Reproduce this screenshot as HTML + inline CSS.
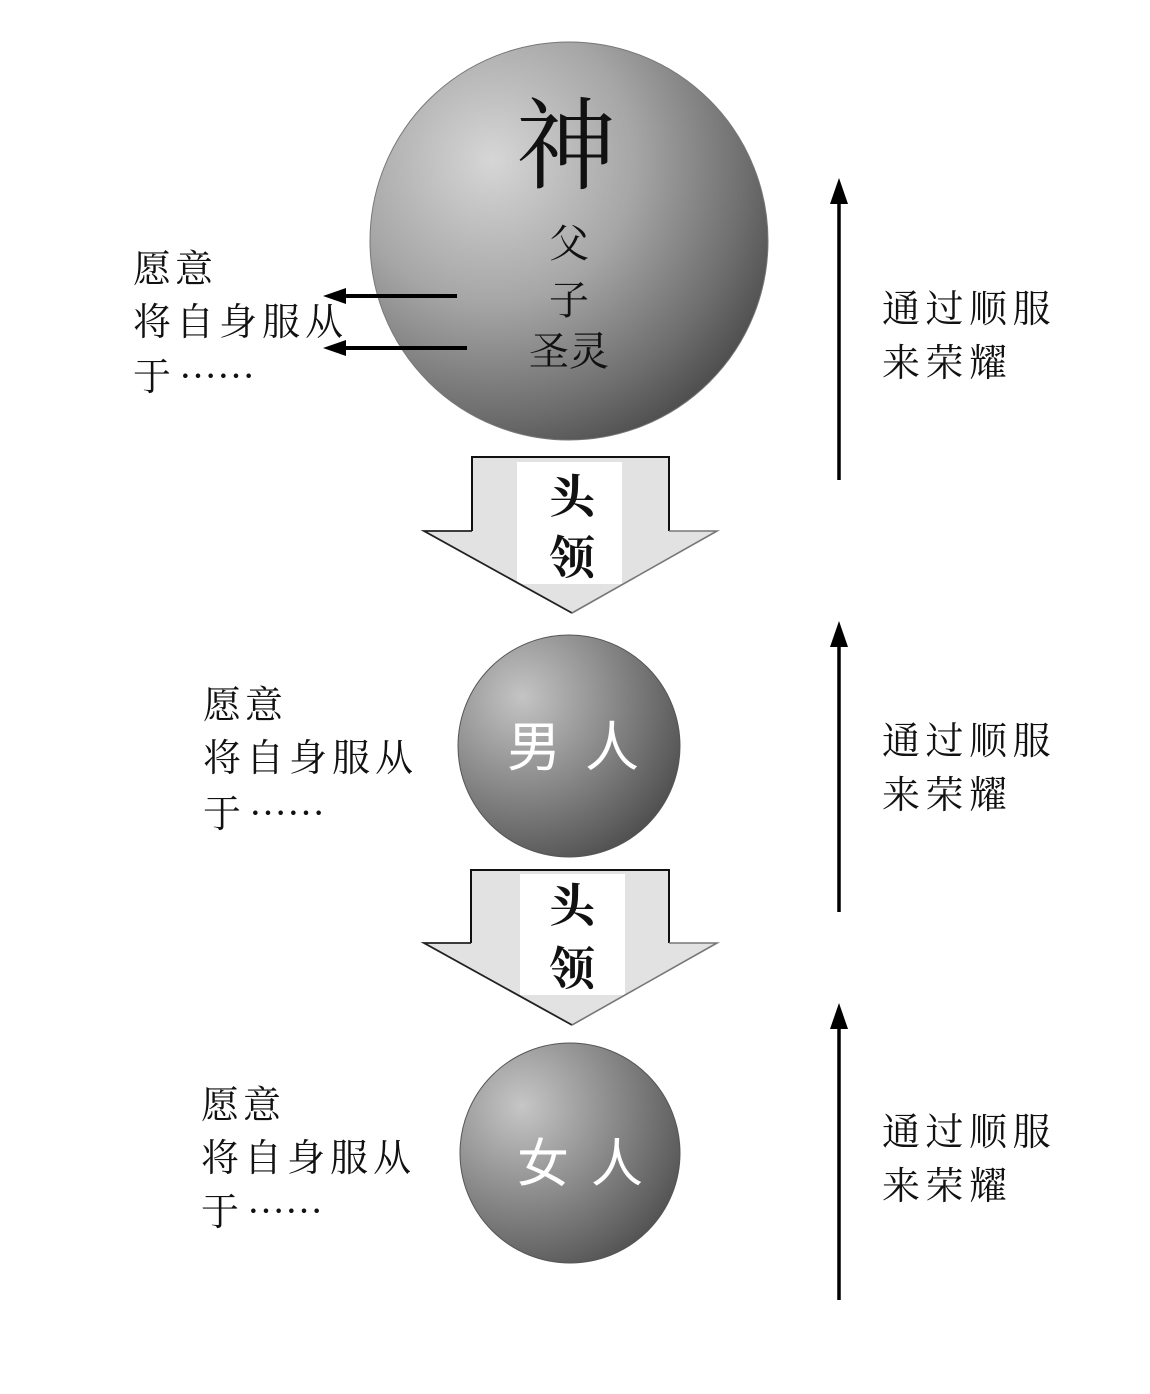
<!DOCTYPE html>
<html>
<head>
<meta charset="utf-8">
<style>
  html, body { margin:0; padding:0; background:#ffffff; }
  body { width:1150px; height:1394px; overflow:hidden; }
  svg { display:block; }
  .t { font-family: "Liberation Serif", "Noto Serif CJK SC", serif; fill:#111; }
  .e { font-family: "Noto Serif CJK SC", serif; fill:#111; font-weight:900; }
  .s { font-family: "Liberation Sans", "Noto Sans CJK SC", sans-serif; fill:#ffffff; }
</style>
</head>
<body>
<svg width="1150" height="1394" viewBox="0 0 1150 1394" xmlns="http://www.w3.org/2000/svg">
  <defs>
    <radialGradient id="g1" gradientUnits="userSpaceOnUse" cx="492" cy="160" r="340" fx="492" fy="160">
      <stop offset="0" stop-color="#d6d6d6"/>
      <stop offset="0.42" stop-color="#a6a6a6"/>
      <stop offset="0.75" stop-color="#6e6e6e"/>
      <stop offset="1" stop-color="#3e3e3e"/>
    </radialGradient>
    <radialGradient id="g2" gradientUnits="userSpaceOnUse" cx="522" cy="697" r="210" fx="522" fy="697">
      <stop offset="0" stop-color="#c4c4c4"/>
      <stop offset="0.4" stop-color="#8e8e8e"/>
      <stop offset="0.75" stop-color="#5e5e5e"/>
      <stop offset="1" stop-color="#3a3a3a"/>
    </radialGradient>
    <radialGradient id="g3" gradientUnits="userSpaceOnUse" cx="522" cy="1106" r="210" fx="522" fy="1106">
      <stop offset="0" stop-color="#c6c6c6"/>
      <stop offset="0.4" stop-color="#909090"/>
      <stop offset="0.75" stop-color="#616161"/>
      <stop offset="1" stop-color="#3c3c3c"/>
    </radialGradient>
  </defs>

  <!-- ===== Big sphere (God) ===== -->
  <circle cx="569" cy="241" r="199" fill="url(#g1)" stroke="#777" stroke-width="1"/>
  <text class="t" x="566" y="181" font-size="100" text-anchor="middle">神</text>
  <text class="t" x="569" y="257" font-size="40" text-anchor="middle">父</text>
  <text class="t" x="569" y="314" font-size="40" text-anchor="middle">子</text>
  <text class="t" x="569" y="365" font-size="40" text-anchor="middle">圣灵</text>

  <!-- left arrows from big sphere -->
  <line x1="457" y1="296" x2="340" y2="296" stroke="#000" stroke-width="4"/>
  <polygon points="323,296 346,288 346,304" fill="#000"/>
  <line x1="467" y1="348" x2="340" y2="348" stroke="#000" stroke-width="4"/>
  <polygon points="323,348 346,340 346,356" fill="#000"/>

  <!-- left text 1 -->
  <text class="t" x="133" y="282" font-size="38" letter-spacing="4">愿意</text>
  <text class="t" x="133" y="335" font-size="38" letter-spacing="5">将自身服从</text>
  <text class="t" x="133" y="390" font-size="38">于<tspan class="e" dx="8">……</tspan></text>

  <!-- ===== Block arrow 1 ===== -->
  <polygon points="472,457 669,457 669,531 717,531 572,613 424,531 472,531" fill="#e2e2e2"/>
  <rect x="517" y="462" width="105" height="122" fill="#ffffff"/>
  <polyline points="472,531 472,457 669,457 669,531" fill="none" stroke="#111" stroke-width="2"/>
  <polyline points="472,531 424,531 572,613" fill="none" stroke="#222" stroke-width="1.8"/>
  <polyline points="669,531 717,531 572,613" fill="none" stroke="#777" stroke-width="1.6"/>
  <text class="t" x="572" y="513" font-size="46" font-weight="bold" text-anchor="middle">头</text>
  <text class="t" x="572" y="574" font-size="46" font-weight="bold" text-anchor="middle">领</text>

  <!-- ===== Man sphere ===== -->
  <circle cx="569" cy="746" r="111" fill="url(#g2)" stroke="#555" stroke-width="1"/>
  <text class="s" x="534" y="766" font-size="54" text-anchor="middle">男</text>
  <text class="s" x="612" y="766" font-size="54" text-anchor="middle">人</text>

  <!-- left text 2 -->
  <text class="t" x="203" y="718" font-size="38" letter-spacing="4">愿意</text>
  <text class="t" x="203" y="771" font-size="38" letter-spacing="5">将自身服从</text>
  <text class="t" x="203" y="827" font-size="38">于<tspan class="e" dx="8">……</tspan></text>

  <!-- ===== Block arrow 2 ===== -->
  <polygon points="471,870 669,870 669,943 717,943 572,1025 424,943 471,943" fill="#e2e2e2"/>
  <rect x="520" y="874" width="105" height="121" fill="#ffffff"/>
  <polyline points="471,943 471,870 669,870 669,943" fill="none" stroke="#111" stroke-width="2"/>
  <polyline points="471,943 424,943 572,1025" fill="none" stroke="#222" stroke-width="1.8"/>
  <polyline points="669,943 717,943 572,1025" fill="none" stroke="#777" stroke-width="1.6"/>
  <text class="t" x="572" y="922" font-size="46" font-weight="bold" text-anchor="middle">头</text>
  <text class="t" x="572" y="985" font-size="46" font-weight="bold" text-anchor="middle">领</text>

  <!-- ===== Woman sphere ===== -->
  <circle cx="570" cy="1153" r="110" fill="url(#g3)" stroke="#555" stroke-width="1"/>
  <text class="s" x="543" y="1182" font-size="52" text-anchor="middle">女</text>
  <text class="s" x="617" y="1182" font-size="52" text-anchor="middle">人</text>

  <!-- left text 3 -->
  <text class="t" x="201" y="1118" font-size="38" letter-spacing="4">愿意</text>
  <text class="t" x="201" y="1171" font-size="38" letter-spacing="5">将自身服从</text>
  <text class="t" x="201" y="1225" font-size="38">于<tspan class="e" dx="8">……</tspan></text>

  <!-- ===== Right up arrows ===== -->
  <line x1="839" y1="480" x2="839" y2="198" stroke="#000" stroke-width="3.5"/>
  <polygon points="839,178 830,204 848,204" fill="#000"/>
  <line x1="839" y1="912" x2="839" y2="642" stroke="#000" stroke-width="3.5"/>
  <polygon points="839,621 830,647 848,647" fill="#000"/>
  <line x1="839" y1="1300" x2="839" y2="1024" stroke="#000" stroke-width="3.5"/>
  <polygon points="839,1003 830,1029 848,1029" fill="#000"/>

  <!-- right texts -->
  <text class="t" x="882" y="322" font-size="38" letter-spacing="5.5">通过顺服</text>
  <text class="t" x="882" y="376" font-size="38" letter-spacing="5.5">来荣耀</text>
  <text class="t" x="882" y="754" font-size="38" letter-spacing="5.5">通过顺服</text>
  <text class="t" x="882" y="808" font-size="38" letter-spacing="5.5">来荣耀</text>
  <text class="t" x="882" y="1145" font-size="38" letter-spacing="5.5">通过顺服</text>
  <text class="t" x="882" y="1199" font-size="38" letter-spacing="5.5">来荣耀</text>
</svg>
</body>
</html>
